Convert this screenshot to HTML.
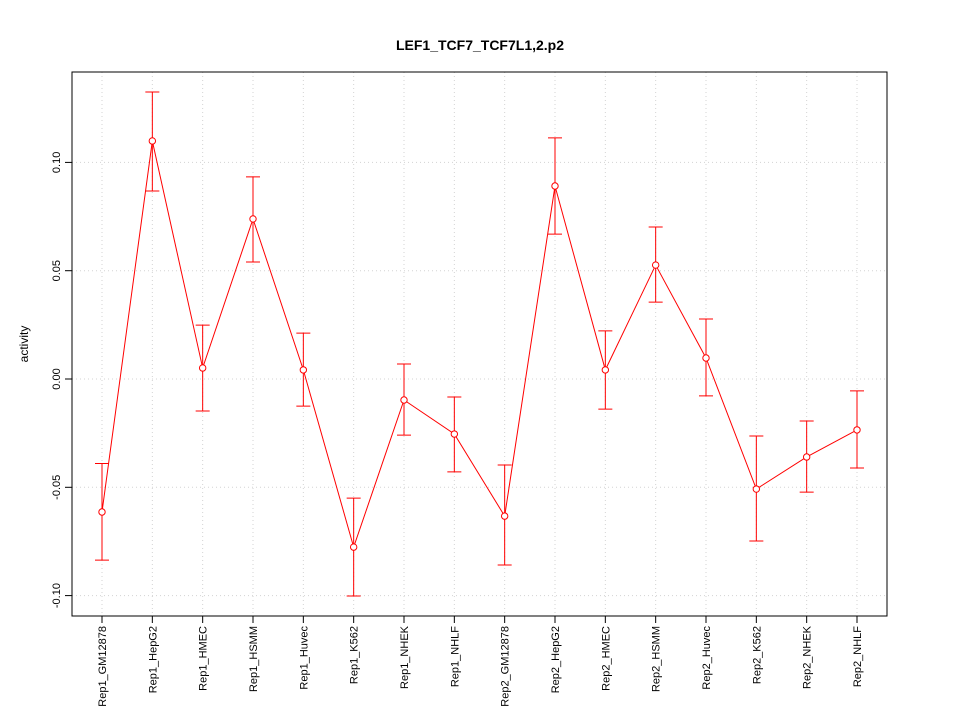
<!DOCTYPE html>
<html><head><meta charset="utf-8"><style>
body{margin:0;background:#fff;}
svg text{font-family:"Liberation Sans",sans-serif;}
</style></head><body>
<svg id="chart" width="960" height="720" xmlns="http://www.w3.org/2000/svg">
<text x="480" y="50" text-anchor="middle" font-size="14" font-weight="bold">LEF1_TCF7_TCF7L1,2.p2</text>
<text x="0" y="0" transform="translate(28,344) rotate(-90)" text-anchor="middle" font-size="12">activity</text>
<g id="grid"></g>
<g id="axes"></g>
<g id="series"></g>
</svg>
<script>
const categories=["Rep1_GM12878","Rep1_HepG2","Rep1_HMEC","Rep1_HSMM","Rep1_Huvec","Rep1_K562","Rep1_NHEK","Rep1_NHLF","Rep2_GM12878","Rep2_HepG2","Rep2_HMEC","Rep2_HSMM","Rep2_Huvec","Rep2_K562","Rep2_NHEK","Rep2_NHLF"];
const values=[-0.0614,0.1099,0.0051,0.0739,0.0042,-0.0776,-0.0097,-0.0254,-0.0633,0.0891,0.0042,0.0526,0.0097,-0.0508,-0.036,-0.0235];
const upper=[-0.039,0.1325,0.0249,0.0933,0.0212,-0.055,0.0069,-0.0083,-0.0397,0.1113,0.0222,0.0702,0.0277,-0.0263,-0.0194,-0.0055];
const lower=[-0.0836,0.0868,-0.0148,0.054,-0.0125,-0.1002,-0.0259,-0.0429,-0.0859,0.0669,-0.0139,0.0355,-0.0078,-0.0748,-0.0522,-0.0411];
const yTicks=[-0.10,-0.05,0.00,0.05,0.10];
const yTickLabels=["-0.10","-0.05","0.00","0.05","0.10"];

const NS="http://www.w3.org/2000/svg";
const L=72,R=887,T=72,B=616;
function xs(i){return 102+i*(857-102)/(categories.length-1);}
function ys(v){return 379-v*2166;}
function mk(parent,tag,attrs){const e=document.createElementNS(NS,tag);for(const k in attrs)e.setAttribute(k,attrs[k]);document.getElementById(parent).appendChild(e);return e;}

categories.forEach((c,i)=>{
  const g=mk('grid','line',{x1:xs(i),x2:xs(i),y1:T,y2:B,stroke:'#d3d3d3','stroke-dasharray':'1,3'});
  
  
  const t=mk('axes','line',{x1:xs(i),x2:xs(i),y1:B,y2:B+7,stroke:'#000'});
  
  
  const lb=mk('axes','text',{x:0,y:0,transform:`translate(${xs(i)+4},${B+10}) rotate(-90)`,'text-anchor':'end','font-size':'11'});
  lb.textContent=c;
  
  
});
yTicks.forEach((v,i)=>{
  const g=mk('grid','line',{x1:L,x2:R,y1:ys(v),y2:ys(v),stroke:'#d3d3d3','stroke-dasharray':'1,3'});
  
  
  const t=mk('axes','line',{x1:L-7,x2:L,y1:ys(v),y2:ys(v),stroke:'#000'});
  
  
  const lb=mk('axes','text',{x:0,y:0,transform:`translate(${L-12},${ys(v)}) rotate(-90)`,'text-anchor':'middle','font-size':'11'});
  lb.textContent=yTickLabels[i];
  
  
});
const box=mk('axes','rect',{x:L,y:T,width:R-L,height:B-T,fill:'none',stroke:'#000'});



const line=mk('series','polyline',{points:values.map((v,i)=>xs(i)+','+ys(v)).join(' '),fill:'none',stroke:'#ff0000'});


values.forEach((v,i)=>{
  const x=xs(i);
  const eb=mk('series','path',{d:`M${x},${ys(upper[i])}V${ys(lower[i])}M${x-7},${ys(upper[i])}H${x+7}M${x-7},${ys(lower[i])}H${x+7}`,stroke:'#ff0000',fill:'none'});
  
  
  const p=mk('series','circle',{cx:x,cy:ys(v),r:3.2,fill:'#fff',stroke:'#ff0000'});
  
  
});
</script>
</body></html>
